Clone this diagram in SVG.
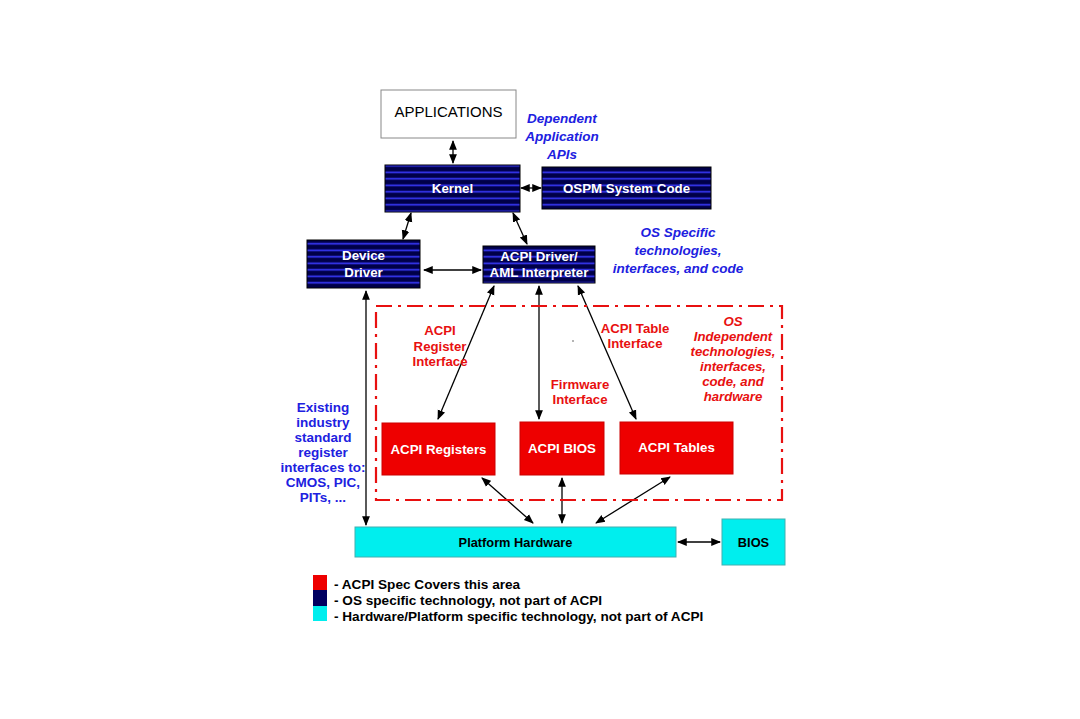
<svg xmlns="http://www.w3.org/2000/svg" width="1080" height="719" viewBox="0 0 1080 719">
<defs>
<pattern id="stripes" patternUnits="userSpaceOnUse" x="0" y="0" width="8" height="6.5">
<rect width="8" height="6.5" fill="#000048"/>
<rect y="2.5" width="8" height="1.6" fill="#3a3aff"/>
</pattern>
<marker id="ah" viewBox="0 0 10 10" refX="9" refY="5" markerWidth="7.5" markerHeight="7.5" orient="auto-start-reverse">
<path d="M0,1 L10,5 L0,9 z" fill="#000"/>
</marker>
</defs>
<style>
.os{fill:url(#stripes);stroke:#000;stroke-width:1}
.red{fill:#ee0000;stroke:#cc0000;stroke-width:1}
.cyan{fill:#00eeee;stroke:#40b0b0;stroke-width:1}
.wt{font-family:"Liberation Sans",Arial,sans-serif;font-weight:bold;font-size:13.3px;fill:#fff;text-anchor:middle}
.bt{font-family:"Liberation Sans",Arial,sans-serif;font-weight:bold;font-size:12.8px;fill:#000;text-anchor:middle}
.blue{font-family:"Liberation Sans",Arial,sans-serif;font-weight:bold;font-size:13.5px;fill:#2020e0;text-anchor:middle}
.bi{font-style:italic}
.rt{font-family:"Liberation Sans",Arial,sans-serif;font-weight:bold;font-size:13.2px;fill:#e81010;text-anchor:middle}
.lg{font-family:"Liberation Sans",Arial,sans-serif;font-weight:bold;font-size:13.6px;fill:#000}
.c{stroke:#000;stroke-width:1.3;fill:none;marker-start:url(#ah);marker-end:url(#ah)}
</style>
<rect width="1080" height="719" fill="#fff"/>

<g id="connectors">
<line class="c" x1="453" y1="141" x2="453" y2="163"/>
<line class="c" x1="521" y1="188" x2="541" y2="188"/>
<line class="c" x1="411" y1="213" x2="403" y2="239"/>
<line class="c" x1="513" y1="213" x2="527" y2="244"/>
<line class="c" x1="424" y1="270" x2="481" y2="270"/>
<line class="c" x1="494" y1="286" x2="438" y2="419"/>
<line class="c" x1="539" y1="286" x2="539" y2="419"/>
<line class="c" x1="578" y1="286" x2="636" y2="419"/>
<line class="c" x1="366" y1="291" x2="366" y2="525"/>
<line class="c" x1="533" y1="523" x2="482" y2="478"/>
<line class="c" x1="562" y1="523" x2="562" y2="478"/>
<line class="c" x1="596" y1="523" x2="670" y2="477"/>
<line class="c" x1="678" y1="542" x2="720" y2="542"/>
</g>

<g id="acpi-area">
<rect x="376" y="306" width="406" height="194" fill="none" stroke="#e81010" stroke-width="2.2" stroke-dasharray="16,6,3,6"/>
</g>

<g id="applications">
<rect x="381" y="90" width="135" height="48" fill="#fff" stroke="#888" stroke-width="1"/>
<text x="448.5" y="117" font-family="Liberation Sans,Arial,sans-serif" font-size="15" fill="#000" text-anchor="middle">APPLICATIONS</text>
</g>
<g id="dependent-label">
<text class="blue bi" x="562" y="123">Dependent</text>
<text class="blue bi" x="562" y="141">Application</text>
<text class="blue bi" x="562" y="159">APIs</text>
</g>
<g id="kernel">
<rect class="os" x="385" y="165" width="135" height="47"/>
<text class="wt" x="452.5" y="193">Kernel</text>
</g>
<g id="ospm">
<rect class="os" x="542" y="167" width="169" height="42"/>
<text class="wt" x="626.5" y="193">OSPM System Code</text>
</g>
<g id="device-driver">
<rect class="os" x="307" y="240" width="113" height="48"/>
<text class="wt" x="363.5" y="260">Device</text>
<text class="wt" x="363.5" y="277">Driver</text>
</g>
<g id="acpi-driver">
<rect class="os" x="483" y="246" width="112" height="37"/>
<text class="wt" x="539" y="261">ACPI Driver/</text>
<text class="wt" x="539" y="277">AML Interpreter</text>
</g>
<g id="os-specific-label">
<text class="blue bi" x="678" y="237">OS Specific</text>
<text class="blue bi" x="678" y="255">technologies,</text>
<text class="blue bi" x="678" y="273">interfaces, and code</text>
</g>
<g id="register-interface-label">
<text class="rt" x="440" y="335">ACPI</text>
<text class="rt" x="440" y="351">Register</text>
<text class="rt" x="440" y="366">Interface</text>
</g>
<g id="table-interface-label">
<text class="rt" x="635" y="333">ACPI Table</text>
<text class="rt" x="635" y="348">Interface</text>
</g>
<g id="firmware-interface-label">
<text class="rt" x="580" y="389">Firmware</text>
<text class="rt" x="580" y="404">Interface</text>
</g>
<circle cx="573" cy="341" r="0.8" fill="#555"/>
<g id="os-independent-label">
<text class="rt bi" x="733" y="326">OS</text>
<text class="rt bi" x="733" y="341">Independent</text>
<text class="rt bi" x="733" y="356">technologies,</text>
<text class="rt bi" x="733" y="371">interfaces,</text>
<text class="rt bi" x="733" y="386">code, and</text>
<text class="rt bi" x="733" y="401">hardware</text>
</g>
<g id="acpi-registers">
<rect class="red" x="382" y="423" width="113" height="52"/>
<text class="wt" x="438.5" y="454">ACPI Registers</text>
</g>
<g id="acpi-bios">
<rect class="red" x="520" y="422" width="84" height="53"/>
<text class="wt" x="562" y="453">ACPI BIOS</text>
</g>
<g id="acpi-tables">
<rect class="red" x="620" y="422" width="113" height="52"/>
<text class="wt" x="676.5" y="452">ACPI Tables</text>
</g>
<g id="existing-label">
<text class="blue" x="323" y="412">Existing</text>
<text class="blue" x="323" y="427">industry</text>
<text class="blue" x="323" y="442">standard</text>
<text class="blue" x="323" y="457">register</text>
<text class="blue" x="323" y="472">interfaces to:</text>
<text class="blue" x="323" y="487">CMOS, PIC,</text>
<text class="blue" x="323" y="502">PITs, ...</text>
</g>
<g id="platform-hardware">
<rect class="cyan" x="355" y="527" width="321" height="30"/>
<text class="bt" x="515.5" y="547" fill="#203030">Platform Hardware</text>
</g>
<g id="bios">
<rect class="cyan" x="722" y="519" width="63" height="46"/>
<text class="bt" x="753.5" y="547">BIOS</text>
</g>
<g id="legend">
<rect x="313" y="575" width="14" height="15" fill="#ee0000"/>
<rect x="313" y="590" width="14" height="16" fill="#000060"/>
<rect x="313" y="606" width="14" height="15" fill="#00eeee"/>
<text class="lg" x="334" y="589">-  ACPI Spec Covers this area</text>
<text class="lg" x="334" y="605">-  OS specific technology, not part of ACPI</text>
<text class="lg" x="334" y="621">-  Hardware/Platform specific technology, not part of ACPI</text>
</g>
</svg>
